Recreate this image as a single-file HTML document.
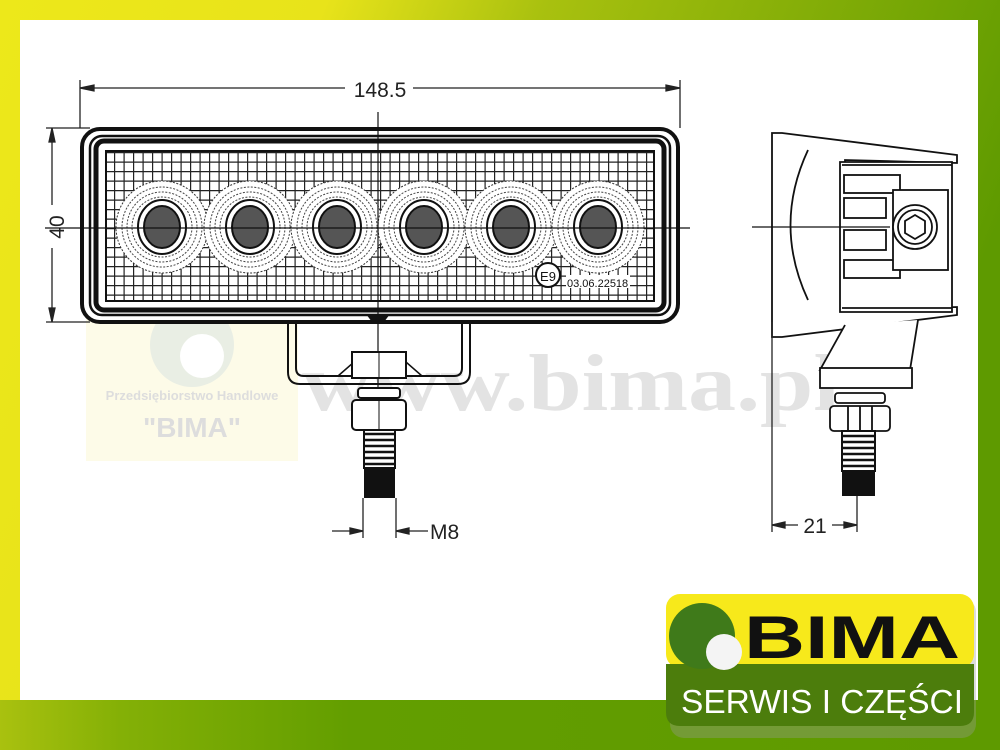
<!DOCTYPE html>
<html><head><meta charset="utf-8"><style>
html,body{margin:0;padding:0;width:1000px;height:750px;overflow:hidden;background:#fff}
svg{display:block}
</style></head><body>
<svg width="1000" height="750" viewBox="0 0 1000 750" xmlns="http://www.w3.org/2000/svg" font-family="Liberation Sans, sans-serif">
<defs>
<linearGradient id="fr" x1="0" y1="0" x2="1" y2="0.3">
<stop offset="0" stop-color="#ede81a"/><stop offset="0.3" stop-color="#e8e31a"/><stop offset="0.5" stop-color="#a9c10f"/><stop offset="1" stop-color="#5e9a00"/>
</linearGradient>
<linearGradient id="bt" x1="0" y1="0" x2="1" y2="0">
<stop offset="0" stop-color="#a9c10f"/><stop offset="0.12" stop-color="#84b006"/><stop offset="0.35" stop-color="#639e00"/><stop offset="1" stop-color="#5e9a00"/>
</linearGradient>
<pattern id="grid" width="9.5" height="9.5" patternUnits="userSpaceOnUse">
<rect width="9.5" height="9.5" fill="#fff"/><path d="M0 0H9.5M0 0V9.5" stroke="#222" stroke-width="2.4"/>
</pattern>
<g id="led">
<circle r="46" fill="#fff"/>
<circle r="46" fill="none" stroke="#333" stroke-width="1" stroke-dasharray="2 1.5"/>
<circle r="40" fill="none" stroke="#444" stroke-width="1" stroke-dasharray="2 1.5"/>
<circle r="35" fill="none" stroke="#444" stroke-width="1" stroke-dasharray="2 1.5"/>
<circle r="30" fill="none" stroke="#444" stroke-width="1" stroke-dasharray="2 1.5"/>
<ellipse rx="24" ry="27" fill="none" stroke="#111" stroke-width="2"/>
<ellipse rx="21" ry="24" fill="#fff"/>
<ellipse rx="18" ry="21" fill="#555" stroke="#111" stroke-width="2"/>
</g>
</defs>
<rect width="1000" height="750" fill="url(#fr)"/>
<rect x="0" y="700" width="1000" height="50" fill="url(#bt)"/>
<rect x="20" y="20" width="958" height="680" fill="#fff"/>

<rect x="86" y="318" width="212" height="143" fill="#fdfbe8"/>
<circle cx="192" cy="345" r="42" fill="#e9eee4"/>
<circle cx="202" cy="356" r="22" fill="#fff"/>
<text x="192" y="400" font-size="13" font-weight="bold" fill="#ddd" text-anchor="middle">Przedsiębiorstwo Handlowe</text>
<text x="192" y="437" font-size="28" font-weight="bold" fill="#ddd" text-anchor="middle">"BIMA"</text>
<text x="302" y="410" font-size="80" font-weight="bold" font-family="Liberation Serif, serif" fill="#e3e3e3" textLength="538" lengthAdjust="spacingAndGlyphs">www.bima.pl</text>

<g stroke="#222" stroke-width="1.3" fill="#222">
<line x1="80" y1="80" x2="80" y2="128"/><line x1="680" y1="80" x2="680" y2="128"/>
<line x1="80" y1="88" x2="345" y2="88"/><line x1="413" y1="88" x2="680" y2="88"/>
<path d="M80 88l14-3v6z M680 88l-14-3v6z"/>
<line x1="46" y1="128" x2="90" y2="128"/><line x1="46" y1="322" x2="90" y2="322"/>
<line x1="52" y1="128" x2="52" y2="205"/><line x1="52" y1="248" x2="52" y2="322"/>
<path d="M52 128l-3 14h6z M52 322l-3-14h6z"/>
</g>
<text x="380" y="97" font-size="21" fill="#222" text-anchor="middle">148.5</text>
<text x="64" y="227" font-size="21" fill="#222" text-anchor="middle" transform="rotate(-90 64 227)">40</text>

<rect x="82" y="129" width="596" height="193" rx="18" fill="#fff" stroke="#111" stroke-width="4"/>
<rect x="90" y="136" width="580" height="179" rx="12" fill="none" stroke="#111" stroke-width="2.5"/>
<rect x="96" y="141" width="568" height="169" rx="8" fill="none" stroke="#111" stroke-width="5"/>
<rect x="106" y="151" width="548" height="150" fill="url(#grid)" stroke="#111" stroke-width="2"/>
<use href="#led" x="162" y="227"/><use href="#led" x="250" y="227"/><use href="#led" x="337" y="227"/>
<use href="#led" x="424" y="227"/><use href="#led" x="511" y="227"/><use href="#led" x="598" y="227"/>
<circle cx="548" cy="275" r="12" fill="#fff" stroke="#111" stroke-width="2"/>
<text x="548" y="281" font-size="13" text-anchor="middle" fill="#111">E9</text>
<rect x="566" y="275" width="64" height="13" fill="#fff"/>
<text x="567" y="287" font-size="11" fill="#111">03.06.22518</text>
<line x1="45" y1="228" x2="690" y2="228" stroke="#111" stroke-width="1.2"/>
<line x1="378" y1="112" x2="378" y2="420" stroke="#111" stroke-width="1.2"/>
<path d="M366 314h24l-6 8h-12z" fill="#111"/>

<path d="M288 322v50q0 12 12 12h158q12 0 12-12v-50" fill="none" stroke="#111" stroke-width="2"/>
<path d="M296 322v46q0 8 8 8h150q8 0 8-8v-46" fill="none" stroke="#111" stroke-width="2"/>
<path d="M338 376l16-14h52l16 14" fill="none" stroke="#111" stroke-width="1.5"/>
<rect x="352" y="352" width="54" height="26" fill="#fff" stroke="#111" stroke-width="2"/>
<line x1="379" y1="352" x2="379" y2="378" stroke="#111"/>
<rect x="358" y="388" width="42" height="10" rx="3" fill="#fff" stroke="#111" stroke-width="2"/>
<rect x="352" y="400" width="54" height="30" rx="4" fill="#fff" stroke="#111" stroke-width="2"/>
<line x1="379" y1="400" x2="379" y2="430" stroke="#111"/>
<rect x="364" y="430" width="31" height="38" fill="#fff" stroke="#111" stroke-width="2"/>
<path d="M364 434h31M364 440h31M364 446h31M364 452h31M364 458h31M364 464h31" stroke="#111" stroke-width="2.5"/>
<rect x="364" y="468" width="31" height="30" fill="#111"/>

<g stroke="#222" stroke-width="1.3" fill="#222">
<line x1="363" y1="498" x2="363" y2="538"/><line x1="396" y1="498" x2="396" y2="538"/>
<line x1="332" y1="531" x2="363" y2="531"/><line x1="396" y1="531" x2="428" y2="531"/>
<path d="M363 531l-13-3v6z M396 531l13-3v6z"/>
</g>
<text x="430" y="539" font-size="21" fill="#222">M8</text>

<g fill="#fff" stroke="#111" stroke-width="1.8">
<path d="M772 133h10l175 22v8l-112 -3v150l112-3v8l-175 22h-10z"/>
<path d="M808 150q-35 75 0 150" fill="none"/>
<path d="M840 162h112v150h-112z"/>
<path d="M842 165h110M842 308h110" fill="none"/>
<rect x="844" y="175" width="56" height="18"/>
<rect x="844" y="198" width="42" height="20"/>
<rect x="844" y="230" width="42" height="20"/>
<rect x="844" y="260" width="56" height="18"/>
<rect x="893" y="190" width="55" height="80"/>
<circle cx="915" cy="227" r="22"/>
<circle cx="915" cy="227" r="17"/>
<path d="M915 215l10 6v12l-10 6l-10-6v-12z"/>
<path d="M845 325l-25 45h90l8-50" />
<rect x="820" y="368" width="92" height="20"/>
<rect x="835" y="393" width="50" height="10" rx="3"/>
<rect x="830" y="406" width="60" height="25" rx="4"/>
<path d="M848 406v25M860 406v25M872 406v25" fill="none"/>
</g>
<line x1="752" y1="227" x2="890" y2="227" stroke="#111" stroke-width="1.2"/>
<rect x="842" y="431" width="33" height="40" fill="#fff" stroke="#111" stroke-width="2"/>
<path d="M842 436h33M842 442h33M842 448h33M842 454h33M842 460h33M842 466h33" stroke="#111" stroke-width="2.5"/>
<rect x="842" y="470" width="33" height="26" fill="#111"/>
<g stroke="#222" stroke-width="1.3" fill="#222">
<line x1="772" y1="322" x2="772" y2="532"/><line x1="857" y1="496" x2="857" y2="532"/>
<line x1="772" y1="525" x2="798" y2="525"/><line x1="832" y1="525" x2="857" y2="525"/>
<path d="M772 525l13-3v6z M857 525l-13-3v6z"/>
</g>
<text x="815" y="533" font-size="21" fill="#222" text-anchor="middle">21</text>

<rect x="670" y="598" width="306" height="140" rx="14" fill="#9a9a9a" opacity="0.35"/>
<rect x="666" y="594" width="308" height="74" rx="14" fill="#f7e91b"/>
<path d="M666 664h308v48q0 14-14 14h-280q-14 0-14-14z" fill="#4c7d0c"/>
<circle cx="702" cy="636" r="33" fill="#3f7a1a"/>
<circle cx="724" cy="652" r="18" fill="#f4f4f4"/>
<text x="744" y="658" font-size="60" font-weight="bold" fill="#111" textLength="216" lengthAdjust="spacingAndGlyphs">BIMA</text>
<text x="822" y="713" font-size="33" fill="#fff" text-anchor="middle" textLength="282" lengthAdjust="spacingAndGlyphs">SERWIS I CZĘŚCI</text>
</svg>
</body></html>
